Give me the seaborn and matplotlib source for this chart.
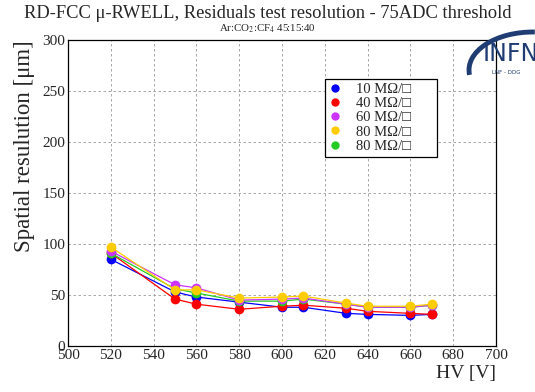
import matplotlib
matplotlib.use("Agg")
import matplotlib.pyplot as plt
import seaborn as sns
import pandas as pd
from matplotlib.ticker import MultipleLocator
from matplotlib.lines import Line2D
from matplotlib.patches import Arc
from matplotlib.transforms import ScaledTranslation

hv = [520, 550, 560, 580, 600, 610, 630, 640, 660, 670]
res_10 = [85, 53, 48, 43, 38, 38, 32, 31, 30, 31]
res_40 = [91, 46, 41, 36, 39, 40, 37, 34, 32, 31]
res_60 = [93, 60, 57, 45, 46, 47, 41, 38, 38, 40]
res_80a = [97, 55, 55, 47, 48, 49, 42, 39, 39, 41]
res_80b = [91, 56, 52, 44, 44, 46, 41, 38, 38, 40]

labels = ["10 M\u03a9/\u25a1", "40 M\u03a9/\u25a1", "60 M\u03a9/\u25a1", "80 M\u03a9/\u25a1", "80 M\u03a9/\u25a1"]
colors = ["#0000ff", "#ff0000", "#cc33ff", "#ffcc00", "#22cc22"]
series = [res_10, res_40, res_60, res_80a, res_80b]
draw_order = [0, 1, 4, 2, 3]

sns.set_theme(style="white")
plt.rcParams['font.family'] = ['Liberation Serif', 'DejaVu Serif']
plt.rcParams['mathtext.fontset'] = 'stix'

fig = plt.figure(figsize=(5.35, 3.92), dpi=100)
ax = fig.add_axes([68/535, 1-346/392, (496-68)/535, (346-40)/392])

for i in draw_order:
    df = pd.DataFrame({"hv": hv, "res": series[i]})
    sns.lineplot(data=df, x="hv", y="res", ax=ax, color=colors[i], marker="o",
                 markersize=7, markeredgewidth=0, linewidth=0.9, legend=False)

ax.set_xlim(500, 700)
ax.set_ylim(0, 300)
ax.xaxis.set_major_locator(MultipleLocator(20))
ax.xaxis.set_minor_locator(MultipleLocator(5))
ax.yaxis.set_major_locator(MultipleLocator(50))
ax.yaxis.set_minor_locator(MultipleLocator(10))
ax.tick_params(which='both', direction='in', top=False, right=False, color='black',
               labelsize=11, pad=2)
ax.tick_params(which='major', length=8, width=0.8)
ax.tick_params(which='minor', length=4, width=0.8)
ax.grid(True, which='major', linestyle=(0, (3, 3)), color='#999999', linewidth=0.6)
for s in ax.spines.values():
    s.set_color('black')
    s.set_linewidth(0.9)

# raise the "0" label a little (as in ROOT output)
t0 = ax.yaxis.get_major_ticks()[0]
t0.label1.set_transform(t0.label1.get_transform() + ScaledTranslation(0, 5/72, fig.dpi_scale_trans))

ax.set_xlabel("HV [V]", fontsize=14, loc='right', labelpad=2)
ax.set_ylabel("Spatial resulution [\u03bcm]", fontsize=16.5, loc='top', labelpad=5)

fig.text(0.5, 1-14/392, "RD-FCC \u03bc-RWELL, Residuals test resolution - 75ADC threshold",
         ha='center', va='center', fontsize=13.3)
fig.text(0.5, 1-29/392, r"Ar:CO$_2$:CF$_4$ 45:15:40", ha='center', va='center', fontsize=7.8)

handles = [Line2D([], [], linestyle='none', marker='o', markersize=6, color=c, markeredgewidth=0)
           for c in colors]
leg = ax.legend(handles, labels, loc='lower left',
                bbox_to_anchor=((325-68)/428, (346-157)/306, 112/428, 79/306), mode='expand',
                fontsize=10.5, frameon=True, fancybox=False, edgecolor='black',
                handlelength=0.8, handletextpad=1.0, borderpad=0.3, labelspacing=0.06,
                borderaxespad=0, framealpha=1)
leg.get_frame().set_linewidth(0.9)

# INFN logo approximation
arc = Arc((533/535, 1-70/392), 128/535, 76/392, angle=0, theta1=88, theta2=186,
          transform=fig.transFigure, color='#1f3c73', linewidth=3.5, zorder=5)
fig.add_artist(arc)
fig.text(483/535, 1-54/392, "INFN", fontsize=17, color='#1f3c73', ha='left', va='center',
         family=['DejaVu Sans'])
fig.text(492/535, 1-72/392, "LNF - DDG", fontsize=4, color='#1f3c73', ha='left', va='center',
         family=['DejaVu Sans'])

fig.savefig("out.png", dpi=100)
